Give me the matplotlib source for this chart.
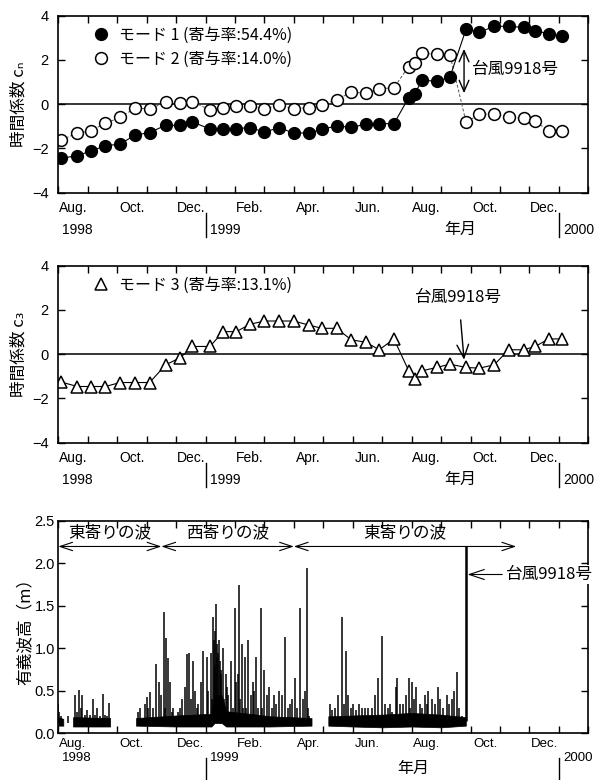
import matplotlib.pyplot as plt
from matplotlib.lines import Line2D
from matplotlib.font_manager import FontProperties

# Fonts: sans for numbers, CJK family for Japanese text
plt.rcParams['font.family'] = ['Liberation Sans Narrow', 'Liberation Sans', 'DejaVu Sans']
JP = ['Noto Sans CJK JP', 'DejaVu Sans']

# ---- data (x = months since 1 Aug 1998, ticks on first of month) ----
t_modes = [0.1, 0.65, 1.1, 1.6, 2.1, 2.6, 3.1, 3.65, 4.15, 4.55, 5.15, 5.6, 6.05,
           6.5, 7.0, 7.5, 8.0, 8.5, 8.95, 9.45, 9.95, 10.45, 10.9, 11.4, 11.9,
           12.1, 12.35, 12.85, 13.3, 13.85, 14.3, 14.8, 15.3, 15.8, 16.2, 16.65, 17.1]
mode1 = [-2.45, -2.32, -2.12, -1.88, -1.8, -1.4, -1.28, -0.95, -0.96, -0.8,
         -1.12, -1.1, -1.1, -1.06, -1.25, -1.07, -1.3, -1.3, -1.14, -0.98,
         -1.05, -0.9, -0.88, -0.88, 0.3, 0.45, 1.08, 1.04, 1.22, 3.4,
         3.25, 3.52, 3.52, 3.47, 3.33, 3.18, 3.06]
mode2 = [-1.61, -1.31, -1.2, -0.86, -0.6, -0.18, -0.21, 0.08, 0.05, 0.12,
         -0.26, -0.15, -0.06, -0.06, -0.21, -0.03, -0.21, -0.15, -0.03, 0.2,
         0.54, 0.5, 0.69, 0.75, 1.7, 1.88, 2.3, 2.26, 2.23, -0.81,
         -0.45, -0.45, -0.6, -0.63, -0.75, -1.23, -1.23]
mode3 = [-1.26, -1.46, -1.46, -1.46, -1.28, -1.28, -1.28, -0.48, -0.15, 0.35,
         0.35, 1.02, 1.02, 1.35, 1.5, 1.5, 1.5, 1.32, 1.17, 1.17,
         0.65, 0.54, 0.2, 0.69, -0.75, -1.13, -0.75, -0.6, -0.45, -0.6,
         -0.63, -0.48, 0.2, 0.2, 0.35, 0.69, 0.69]

# significant wave height: peaks traced from the record, per segment
peak_a_x = [0.0, 0.03, 0.08, 0.34, 0.57, 0.62, 0.71, 0.76, 0.80, 0.90, 0.96, 1.08,
            1.17, 1.25, 1.33, 1.42, 1.51, 1.60, 1.64, 1.72]
peak_a_y = [0.35, 0.25, 0.2, 0.2, 0.45, 0.25, 0.51, 0.3, 0.45, 0.22, 0.28, 0.22,
            0.4, 0.22, 0.3, 0.2, 0.46, 0.22, 0.2, 0.36]
peak_b_x = [2.70, 2.77, 2.95, 3.00, 3.05, 3.11, 3.20, 3.32, 3.43, 3.50, 3.59, 3.63,
            3.66, 3.74, 3.79, 3.85, 3.90, 4.05, 4.13, 4.20, 4.30, 4.36, 4.45, 4.50,
            4.56, 4.65, 4.70, 4.76, 4.85, 4.90, 5.04, 5.10, 5.17, 5.22, 5.26, 5.28,
            5.31, 5.33, 5.36, 5.38, 5.40, 5.43, 5.46, 5.48, 5.51, 5.53, 5.58, 5.64,
            5.68, 5.72, 5.78, 5.85, 5.92, 5.99, 6.03, 6.09, 6.14, 6.18, 6.23, 6.28,
            6.33, 6.39, 6.45, 6.55, 6.60, 6.65, 6.71, 6.77, 6.87, 6.92, 6.99, 7.08,
            7.16, 7.25, 7.32, 7.40, 7.49, 7.60, 7.70, 7.80, 7.87, 7.95, 8.05, 8.12,
            8.21, 8.32, 8.38, 8.43, 8.48, 8.52]
peak_b_y = [0.25, 0.3, 0.35, 0.43, 0.3, 0.49, 0.3, 0.82, 0.6, 0.45, 1.43, 0.3,
            1.12, 0.89, 0.6, 0.25, 0.3, 0.25, 0.3, 0.4, 0.55, 0.93, 0.95, 0.4,
            0.85, 0.5, 0.3, 0.35, 0.6, 0.97, 0.9, 0.5, 0.94, 0.4, 1.37, 1.1,
            0.8, 1.2, 1.52, 1.05, 0.9, 0.95, 1.1, 0.85, 0.7, 0.75, 1.0, 0.4,
            0.7, 0.55, 0.45, 0.85, 0.3, 1.48, 0.6, 0.7, 1.75, 0.4, 1.05, 0.3,
            0.9, 0.3, 1.1, 0.45, 0.6, 0.5, 0.9, 0.3, 1.48, 0.3, 0.75, 0.45,
            0.55, 0.3, 0.45, 0.35, 0.5, 0.45, 1.13, 0.3, 0.35, 0.4, 0.65, 0.3,
            1.47, 0.4, 0.5, 1.95, 0.3, 0.2]
peak_c_x = [9.23, 9.30, 9.40, 9.51, 9.62, 9.70, 9.77, 9.85, 9.95, 10.02, 10.12,
            10.22, 10.30, 10.41, 10.53, 10.65, 10.75, 10.87, 10.98, 11.09, 11.20,
            11.26, 11.35, 11.47, 11.51, 11.60, 11.69, 11.80, 11.90, 11.94, 12.00,
            12.08, 12.15, 12.28, 12.35, 12.45, 12.52, 12.57, 12.68, 12.78, 12.90,
            12.98, 13.05, 13.19, 13.28, 13.36, 13.44, 13.53, 13.62, 13.70]
peak_c_y = [0.35, 0.28, 0.3, 0.45, 1.37, 0.35, 0.97, 0.45, 0.3, 0.35, 0.28,
            0.35, 0.3, 0.3, 0.3, 0.3, 0.45, 0.65, 1.15, 0.35, 0.3,
            0.35, 0.25, 0.55, 0.65, 0.35, 0.35, 0.45, 0.65, 0.3, 0.6,
            0.4, 0.55, 0.35, 0.3, 0.45, 0.35, 0.5, 0.4, 0.35, 0.55,
            0.4, 0.3, 0.45, 0.35, 0.4, 0.5, 0.72, 0.3, 0.2]
typhoon_t = 13.84
typhoon_hs = 2.2
# dense background band of the record (lower / upper envelope) per segment
band_a_x = [[0.0, 0.17], [0.5, 1.76]]
band_a_lo = [[0.09, 0.09], [0.08, 0.08]]
band_a_hi = [[0.19, 0.17], [0.19, 0.18]]
band_b_x = [2.64, 4.0, 5.2, 5.3, 5.55, 5.7, 6.5, 7.2, 8.6]
band_b_lo = [0.09, 0.08, 0.08, 0.12, 0.12, 0.08, 0.08, 0.08, 0.09]
band_b_hi = [0.18, 0.21, 0.23, 0.45, 0.45, 0.26, 0.23, 0.2, 0.18]
band_c_x = [9.17, 10.0, 11.0, 12.0, 13.0, 13.84]
band_c_lo = [0.09, 0.08, 0.07, 0.08, 0.07, 0.09]
band_c_hi = [0.2, 0.21, 0.22, 0.24, 0.22, 0.19]

month_pos = [0.5, 2.5, 4.5, 6.5, 8.5, 10.5, 12.5, 14.5, 16.5]
month_labels = ['Aug.', 'Oct.', 'Dec.', 'Feb.', 'Apr.', 'Jun.', 'Aug.', 'Oct.', 'Dec.']
year_pos = [0, 5, 17]
year_labels = ['1998', '1999', '2000']

# wave regime periods and labels
regime_edges = [0.0, 3.5, 8.0, 15.55]
regime_labels = ['東寄りの波', '西寄りの波', '東寄りの波']

fig = plt.figure(figsize=(6.03, 7.8), dpi=100)
W, H = 603, 780
ax_l, ax_w = 58.3 / W, 530 / W
ax1 = fig.add_axes([ax_l, 1 - 192.7 / H, ax_w, 177 / H])
ax2 = fig.add_axes([ax_l, 1 - 442.7 / H, ax_w, 177 / H])
ax3 = fig.add_axes([ax_l, 1 - 733.3 / H, ax_w, 212.3 / H])


def frame(ax, pad):
    ax.set_xlim(0, 18)
    ax.set_xticks(range(19))
    ax.set_xticklabels([])
    ax.tick_params(direction='in', top=True, right=True, length=5, width=1,
                   labelsize=10.5, pad=pad)
    for s in ax.spines.values():
        s.set_linewidth(1.2)


def time_axis(ax, ax_h, dy_month, dy_year, sep, x_ym, dy_ym, fs=10):
    tr = ax.get_xaxis_transform()
    for x, lab in zip(month_pos, month_labels):
        ax.annotate(lab, (x, 0), xycoords=tr, xytext=(0, -dy_month),
                    textcoords='offset pixels', ha='center', va='center', fontsize=fs)
    for x, lab in zip(year_pos, year_labels):
        ax.annotate(lab, (x, 0), xycoords=tr, xytext=(4, -dy_year),
                    textcoords='offset pixels', ha='left', va='center', fontsize=fs)
    for x in year_pos[1:]:
        ax.plot([x, x], [-sep[0] / ax_h, -sep[1] / ax_h], transform=tr,
                color='k', lw=1, clip_on=False)
    ax.annotate('年月', (x_ym, 0), xycoords=tr, xytext=(0, -dy_ym),
                textcoords='offset pixels', ha='center', va='center',
                fontsize=11.5, family=JP)


legend_font = FontProperties(family=JP, size=11.5)

# ---- panel 1: modes 1 and 2 ----
frame(ax1, 7)
ax1.axhline(0, color='k', lw=1.1)
ax1.plot(t_modes, mode2, color='#555555', lw=0.7, ls=(0, (3, 2)), marker='o',
         ms=8.5, mfc='white', mec='k', mew=1.1)
ax1.plot(t_modes, mode1, color='k', lw=0.8, marker='o', ms=8.5, mfc='k', mec='k')
ax1.set_ylim(-4, 4)
ax1.set_yticks([-4, -2, 0, 2, 4])
ax1.set_ylabel('時間係数 cₙ', family=JP, fontsize=12)
ax1.yaxis.set_label_coords(-0.058, 0.5)
h1 = [Line2D([], [], ls='none', marker='o', ms=8.5, mfc='k', mec='k'),
      Line2D([], [], ls='none', marker='o', ms=8.5, mfc='white', mec='k', mew=1.1)]
ax1.legend(h1, ['モード 1 (寄与率:54.4%)', 'モード 2 (寄与率:14.0%)'], loc='upper left',
           bbox_to_anchor=(0.045, 0.99), frameon=False, prop=legend_font,
           handletextpad=0.5, labelspacing=0.42, handlelength=1.2, borderaxespad=0.2)
ax1.annotate('', xy=(13.78, 0.5), xytext=(13.78, 2.5),
             arrowprops=dict(arrowstyle='<->,head_length=0.8,head_width=0.35', lw=1,
                             color='k', shrinkA=0, shrinkB=0))
ax1.text(14.06, 1.55, '台風9918号', family=JP, fontsize=12, ha='left', va='center')
time_axis(ax1, 177, 15, 37, (20, 44), 13.65, 37)

# ---- panel 2: mode 3 ----
frame(ax2, 7)
ax2.axhline(0, color='k', lw=1.1)
ax2.plot(t_modes, mode3, color='k', lw=0.8, marker='^', ms=9, mfc='white',
         mec='k', mew=1.1)
ax2.set_ylim(-4, 4)
ax2.set_yticks([-4, -2, 0, 2, 4])
ax2.set_ylabel('時間係数 c₃', family=JP, fontsize=12)
ax2.yaxis.set_label_coords(-0.058, 0.5)
h2 = [Line2D([], [], ls='none', marker='^', ms=9, mfc='white', mec='k', mew=1.1)]
ax2.legend(h2, ['モード 3 (寄与率:13.1%)'], loc='upper left',
           bbox_to_anchor=(0.045, 0.99), frameon=False, prop=legend_font,
           handletextpad=0.5, handlelength=1.2, borderaxespad=0.2)
ax2.annotate('台風9918号', xy=(13.78, -0.25), xytext=(13.6, 2.56),
             family=JP, fontsize=12, ha='center', va='center',
             arrowprops=dict(arrowstyle='->,head_length=0.8,head_width=0.35', lw=1,
                             color='k', shrinkA=8, shrinkB=0))
time_axis(ax2, 177, 15, 37, (20, 44), 13.65, 37)

# ---- panel 3: significant wave height ----
frame(ax3, 2.5)
for bx, lo, hi in zip(band_a_x, band_a_lo, band_a_hi):
    ax3.fill_between(bx, lo, hi, color='k', lw=0.5)
ax3.fill_between(band_b_x, band_b_lo, band_b_hi, color='k', lw=0.5)
ax3.fill_between(band_c_x, band_c_lo, band_c_hi, color='k', lw=0.5)
for px, py in [(peak_a_x, peak_a_y), (peak_b_x, peak_b_y), (peak_c_x, peak_c_y)]:
    ax3.vlines(px, 0.12, py, color='k', lw=1.1)
ax3.vlines([typhoon_t], 0.15, [typhoon_hs], color='k', lw=1.8)
ax3.set_ylim(0, 2.5)
ax3.set_yticks([0, 0.5, 1.0, 1.5, 2.0, 2.5])
ax3.set_yticklabels(['0.0', '0.5', '1.0', '1.5', '2.0', '2.5'])
ax3.set_ylabel('有義波高（m）', family=JP, fontsize=12)
ax3.yaxis.set_label_coords(-0.047, 0.5)
for a, b, lab in zip(regime_edges[:-1], regime_edges[1:], regime_labels):
    ax3.annotate('', xy=(a, 2.2), xytext=(b, 2.2),
                 arrowprops=dict(arrowstyle='<->,head_length=0.9,head_width=0.3',
                                 lw=0.8, color='k', shrinkA=0, shrinkB=0))
    ax3.text((a + b) / 2, 2.36, lab, family=JP, fontsize=12, ha='center', va='center')
ax3.annotate('台風9918号', xy=(typhoon_t + 0.06, 1.87), xytext=(15.2, 1.87),
             family=JP, fontsize=12, ha='left', va='center', annotation_clip=False,
             bbox=dict(boxstyle='square,pad=0.05', fc='white', ec='none'),
             arrowprops=dict(arrowstyle='->,head_length=0.9,head_width=0.3', lw=0.8,
                             color='k', shrinkA=2, shrinkB=0))
time_axis(ax3, 212.3, 11, 25, (25, 46), 12.06, 35, fs=9.5)

fig.savefig('out.png', dpi=100, facecolor='white')
